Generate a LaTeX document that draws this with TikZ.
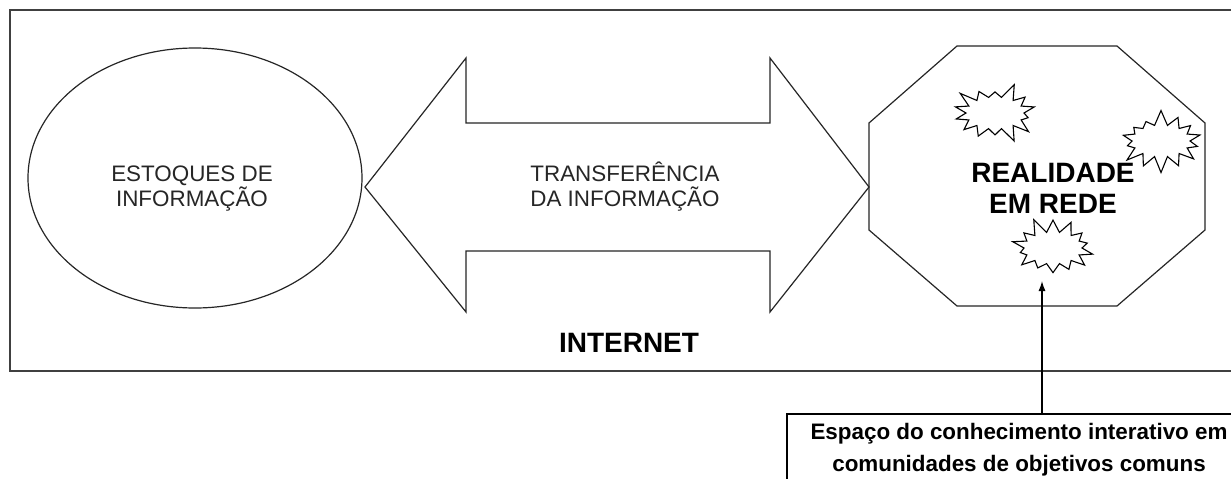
\documentclass[tikz,border=0pt]{standalone}
\usepackage{fontspec}
\setmainfont{Liberation Sans}
\usetikzlibrary{shapes.symbols,shapes.geometric,arrows.meta}
\begin{document}
\begin{tikzpicture}[x=1pt,y=-1pt,
  shapeline/.style={draw=black!85,line width=1.2pt},
  plaintext/.style={font=\fontsize{22.4}{25}\selectfont,align=center,text=black!85,inner sep=0pt},
  boldtext/.style={font=\fontsize{28}{31}\selectfont\bfseries,align=center,inner sep=0pt},
  burst/.style={shape=starburst,draw=black,line width=1.1pt,fill=white,starburst points=14,starburst point height=16pt,minimum width=90pt,minimum height=64pt,inner sep=0pt},
  notebox/.style={draw=black,line width=1.8pt,fill=white,font=\fontsize{22.4}{32}\selectfont\bfseries,align=center,minimum width=464pt,inner xsep=0pt,inner ysep=9pt},
  pointer/.style={draw=black,line width=1.2pt,-{Latex[length=10pt,width=7pt]}}]
\useasboundingbox (0,0) rectangle (1231,479);
\clip (0,0) rectangle (1231,479);
\fill[white] (0,0) rectangle (1231,479);
% outer frame
\draw[draw=black!75,line width=1.6pt] (10,10) rectangle (1260,371);
% ellipse
\node[shapeline,ellipse,minimum width=334pt,minimum height=260pt,inner sep=0pt] (stock) at (195,178) {};
\node[plaintext] (stocktext) at (192,189) {ESTOQUES DE\\INFORMAÇÃO};
% double arrow
\draw[shapeline,line join=miter] (365,187) -- (466,58) -- (466,123) -- (770,123) -- (770,58) -- (869,187) -- (770,312) -- (770,251) -- (466,251) -- (466,312) -- cycle;
\node[plaintext] (transfer) at (625,187) {TRANSFERÊNCIA\\DA INFORMAÇÃO};
% octagon
\draw[shapeline] (957,46) -- (1117,46) -- (1205,123) -- (1205,230) -- (1117,306) -- (957,306) -- (869,230) -- (869,123) -- cycle;
% starbursts
\node[burst,random starburst=3] (b1) at (995,113) {};
\node[burst,random starburst=7] (b2) at (1161,141) {};
\node[burst,random starburst=11] (b3) at (1053,248) {};
\node[boldtext] (rede) at (1053,188) {REALIDADE\\EM REDE};
% INTERNET
\node[boldtext] (internet) at (629,343) {INTERNET};
% note box
\node[notebox,anchor=north] (note) at (1019,413) {Espaço do conhecimento interativo em\\comunidades de objetivos comuns};
\coordinate (target) at (1042,281);
\draw[pointer] (note.north -| target) -- (target);
\end{tikzpicture}
\end{document}
